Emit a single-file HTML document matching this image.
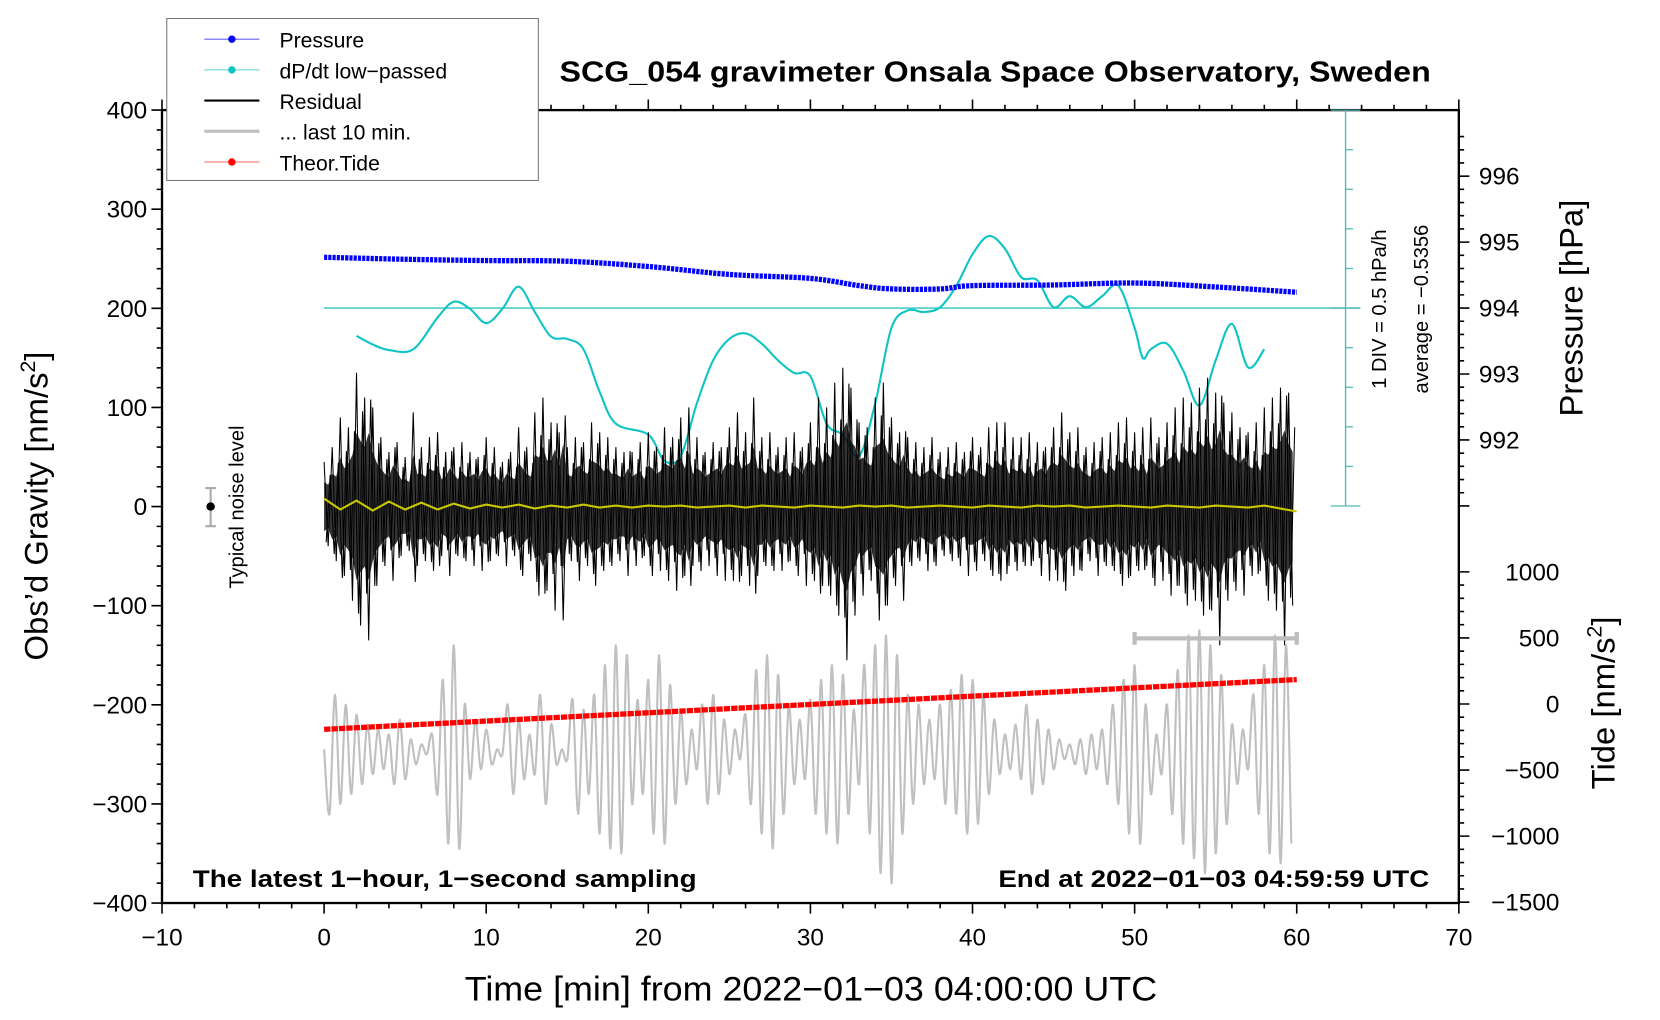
<!DOCTYPE html>
<html><head><meta charset="utf-8"><style>
html,body{margin:0;padding:0;background:#fff;}
svg{display:block;font-family:"Liberation Sans",Arial,sans-serif;}
</style></head><body>
<svg id="chart" xmlns="http://www.w3.org/2000/svg" width="1660" height="1020" viewBox="0 0 1568 963.5">
<g id="g-axes"></g>
<g id="g-series"></g>
<g id="g-text"></g>
</svg>
<script>
// ---- data ----
const residual = [45,-40,60,-55,90,-70,80,-95,135,-120,110,-135,100,-80,70,-60,55,-75,65,-50,50,-45,95,-60,60,-55,70,-65,75,-50,55,-70,60,-50,65,-55,55,-60,50,-65,70,-55,60,-50,45,-60,55,-50,80,-70,60,-55,95,-90,110,-85,85,-105,75,-115,60,-55,70,-75,65,-60,85,-80,75,-65,70,-60,60,-55,55,-70,55,-60,65,-50,75,-70,60,-65,80,-75,70,-85,90,-70,100,-60,70,-65,55,-60,65,-70,60,-75,80,-75,95,-70,75,-80,110,-70,70,-60,75,-65,60,-65,70,-55,75,-70,60,-80,85,-75,110,-80,100,-90,125,-110,140,-155,120,-110,85,-90,80,-75,110,-115,125,-100,90,-80,75,-95,70,-60,65,-55,60,-65,70,-60,55,-50,60,-55,65,-60,55,-70,70,-65,60,-55,80,-70,85,-75,85,-60,70,-65,70,-60,75,-55,65,-70,60,-75,80,-75,95,-85,75,-70,80,-65,60,-55,65,-70,70,-60,75,-65,85,-80,90,-70,75,-65,80,-60,90,-80,70,-75,85,-90,100,-80,110,-100,105,-95,120,-110,130,-105,115,-140,105,-95,95,-85,80,-90,75,-70,85,-65,100,-95,110,-105,120,-140,115,-100];
const lastTen = [-245,-310,-190,-300,-200,-290,-210,-280,-220,-270,-225,-265,-230,-280,-215,-275,-235,-260,-240,-250,-230,-290,-175,-340,-140,-345,-200,-275,-215,-265,-225,-260,-245,-250,-200,-290,-215,-275,-230,-270,-190,-300,-220,-260,-245,-255,-195,-310,-205,-290,-190,-330,-160,-345,-140,-350,-150,-300,-195,-290,-175,-330,-150,-340,-180,-300,-205,-280,-225,-265,-200,-300,-190,-290,-215,-270,-225,-255,-210,-300,-165,-330,-150,-345,-170,-310,-200,-280,-215,-275,-195,-310,-175,-330,-160,-340,-170,-310,-205,-280,-160,-330,-140,-370,-130,-380,-150,-330,-190,-300,-200,-280,-215,-275,-200,-300,-185,-310,-170,-330,-175,-320,-190,-290,-215,-270,-230,-265,-220,-275,-200,-290,-215,-280,-225,-265,-235,-255,-240,-260,-235,-270,-230,-265,-225,-280,-200,-300,-175,-330,-160,-340,-200,-290,-230,-270,-200,-310,-165,-340,-130,-355,-125,-370,-140,-350,-170,-320,-220,-280,-225,-265,-190,-310,-160,-350,-130,-360,-140,-340];
const smoothRes = [8,-3,6,-4,5,-3,4,-3,3,-2,2,-1,2,-2,1,-1,2,-1,1,-1,1,0,1,-1,0,1,-1,1,0,-1,1,0,-1,1,0,1,-1,0,1,0,-1,1,0,-1,1,0,1,-1,0,1,0,-1,1,0,-1,1,0,-1,1,-2,-5];
const pressTimes = [0,5,10,15,20,25,30,33,35,38,40,45,50,55,60];
const pressVals = [994.77,994.74,994.72,994.71,994.63,994.51,994.45,994.34,994.29,994.29,994.34,994.35,994.38,994.32,994.24];
const dpTimes = [2,3,4,5.5,7,8,9,10,11,12,13,14,15,16,17,18,20,21,22,23,24,25,26,27,28,29,30,31,32,33,34,35,36,37,38,39,40,41,42,43,44,45,46,47,48,49,50,50.5,51,52,53,54,55,56,57,58];
const dpVals = [-0.35,-0.46,-0.53,-0.52,-0.12,0.08,-0.01,-0.19,-0.01,0.27,-0.05,-0.36,-0.39,-0.52,-1.06,-1.46,-1.60,-1.93,-1.87,-1.20,-0.66,-0.39,-0.32,-0.45,-0.66,-0.82,-0.86,-1.46,-1.60,-1.87,-1.20,-0.25,-0.03,-0.05,0.01,0.28,0.68,0.91,0.75,0.39,0.35,0.01,0.15,0.01,0.15,0.28,-0.25,-0.63,-0.52,-0.45,-0.79,-1.23,-0.66,-0.20,-0.75,-0.52];
const tideTimes = [0,60];
const tideVals = [-192,185];
const xTicks = [-10,0,10,20,30,40,50,60,70];
const yTicks = [400,300,200,100,0,-100,-200,-300,-400];
const pTicks = [996,995,994,993,992];
const tTicks = [1000,500,0,-500,-1000,-1500];

// ---- scales (view units) ----
const L=153,R=1378,T=104,B=853;
const X=t=>L+(t+10)*(R-L)/80;
const Y=v=>478.5-v*(B-T)/800;
const YP=p=>291-(p-994)*62.3;
const YT=v=>665-v*0.1248;
const YD=d=>291-(d/0.5)*37.4;
const NS="http://www.w3.org/2000/svg";
function mk(tag,attrs,parent,txt){const e=document.createElementNS(NS,tag);for(const k in attrs)e.setAttribute(k,attrs[k]);if(txt!==undefined)e.textContent=txt;parent.appendChild(e);return e;}
const gA=document.getElementById('g-axes'),gS=document.getElementById('g-series'),gT=document.getElementById('g-text');

let el=mk('line',{x1:306,y1:291,x2:1285,y2:291,stroke:'#2bc4c4','stroke-width':1.3},gS);


el=mk('line',{x1:1271,y1:104,x2:1271,y2:478,stroke:'#52b8b8','stroke-width':1.3},gS);


for(let i=0;i<=10;i++){const y=104+i*37.4;const w=(i===0||i===10||i===5)?14:7;
 el=mk('line',{x1:1271-(w===14?14:0),y1:y,x2:1271+w,y2:y,stroke:'#52b8b8','stroke-width':1.2},gS);
 
 }

function smoothPath(pts){let d='M'+pts[0][0]+','+pts[0][1];for(let i=0;i<pts.length-1;i++){const p0=pts[i-1]||pts[i],p1=pts[i],p2=pts[i+1],p3=pts[i+2]||p2;
 d+=' C'+(p1[0]+(p2[0]-p0[0])/6)+','+(p1[1]+(p2[1]-p0[1])/6)+' '+(p2[0]-(p3[0]-p1[0])/6)+','+(p2[1]-(p3[1]-p1[1])/6)+' '+p2[0]+','+p2[1];}return d;}
el=mk('path',{d:smoothPath(dpTimes.map((t,i)=>[X(t),YD(dpVals[i])])),fill:'none',stroke:'#10c4c4','stroke-width':2},gS);



el=mk('path',{d:smoothPath(pressTimes.map((t,i)=>[X(t),YP(pressVals[i])])),fill:'none',stroke:'#0000ff','stroke-width':5,'stroke-dasharray':'3 1'},gS);



// residual dense core band (from residual envelope)
const envTop=residual.map((v,i)=>X(i/4)+','+Y(Math.abs(v)*0.55));
const envBot=residual.map((v,i)=>X(i/4)+','+Y(-Math.abs(v)*0.55)).reverse();
el=mk('polygon',{points:envTop.concat(envBot).join(' '),fill:'#111','fill-opacity':0.85,stroke:'none'},gS);


el=mk('polyline',{points:residual.map((v,i)=>X(i/4)+','+Y(v)).join(' '),fill:'none',stroke:'#000','stroke-width':1,'stroke-linejoin':'miter'},gS);


el=mk('polyline',{points:residual.map((v,i)=>X(i/4+0.125)+','+Y(-v*0.8)).join(' '),fill:'none',stroke:'#000','stroke-width':1},gS);



el=mk('polyline',{points:smoothRes.map((v,i)=>X(i)+','+Y(v)).join(' '),fill:'none',stroke:'#c8c800','stroke-width':2},gS);



el=mk('path',{d:smoothPath(lastTen.map((v,i)=>[X(i/3),Y(v)])),fill:'none',stroke:'#c0c0c0','stroke-width':2},gS);



el=mk('polyline',{points:tideTimes.map((t,i)=>X(t)+','+YT(tideVals[i])).join(' '),fill:'none',stroke:'#ff0000','stroke-width':5,'stroke-dasharray':'6 1'},gS);



el=mk('path',{d:`M${X(50)},603 H${X(60)} M${X(50)},597 V609 M${X(60)},597 V609`,stroke:'#bdbdbd','stroke-width':4,fill:'none'},gS);


el=mk('path',{d:`M${X(-7)},461 V497 M${X(-7)-5},461 H${X(-7)+5} M${X(-7)-5},497 H${X(-7)+5}`,stroke:'#aaa','stroke-width':2,fill:'none'},gS);


el=mk('circle',{cx:X(-7),cy:478.5,r:4,fill:'#000'},gS);



el=mk('rect',{x:L,y:T,width:R-L,height:B-T,fill:'none',stroke:'#000','stroke-width':2.2},gA);


let tk='';
for(let t=-10;t<=70;t+=2){const m=t%10===0;const x=X(t);tk+=`M${x},${B} V${B+(m?10:5)} M${x},${T} V${T-(m?10:5)} `;}
for(let v=-400;v<=400;v+=20){const m=v%100===0;const y=Y(v);tk+=`M${L},${y} H${L-(m?10:5)} `;}
for(let p=991;p<=996.8;p+=0.2){const y=YP(p);if(y<T||y>478)continue;const m=Math.abs(p-Math.round(p))<0.01;tk+=`M${R},${y} H${R+(m?10:5)} `;}
for(let v=-1500;v<=1000;v+=100){const y=YT(v);const m=v%500===0;tk+=`M${R},${y} H${R+(m?10:5)} `;}
el=mk('path',{d:tk,stroke:'#000','stroke-width':1.5,fill:'none'},gA);


xTicks.forEach(t=>{el=mk('text',{x:X(t),y:893,'font-size':23,'text-anchor':'middle'},gT,String(t).replace('-','\u2212'));
 
 });
yTicks.forEach(v=>{el=mk('text',{x:L-14,y:Y(v)+8,'font-size':23,'text-anchor':'end'},gT,String(v).replace('-','\u2212'));
 
 });
pTicks.forEach(p=>{el=mk('text',{x:1397,y:YP(p)+8,'font-size':23},gT,String(p));
 
 });
tTicks.forEach(v=>{el=mk('text',{x:1473,y:YT(v)+8,'font-size':23,'text-anchor':'end'},gT,String(v).replace('-','\u2212'));
 
 });
</script>
<svg style="position:absolute;left:0;top:0" width="1660" height="1020" viewBox="0 0 1568 963.5">
<g font-family="Liberation Sans, Arial, sans-serif">
<text x="940" y="77" font-size="27" font-weight="bold" text-anchor="middle" textLength="823" lengthAdjust="spacingAndGlyphs">SCG_054 gravimeter Onsala Space Observatory, Sweden</text>
<text x="182" y="838" font-size="23" font-weight="bold" textLength="476" lengthAdjust="spacingAndGlyphs">The latest 1−hour, 1−second sampling</text>
<text x="943" y="838" font-size="23" font-weight="bold" textLength="407" lengthAdjust="spacingAndGlyphs">End at 2022−01−03 04:59:59 UTC</text>
<text x="439" y="945" font-size="32" textLength="654" lengthAdjust="spacingAndGlyphs">Time [min] from 2022−01−03 04:00:00 UTC</text>
<text transform="translate(45,478) rotate(-90)" font-size="31" text-anchor="middle">Obs’d Gravity [nm/s<tspan font-size="20" dy="-12">2</tspan><tspan dy="12">]</tspan></text>
<text transform="translate(1495,291) rotate(-90)" font-size="31" text-anchor="middle">Pressure [hPa]</text>
<text transform="translate(1525,664) rotate(-90)" font-size="31" text-anchor="middle">Tide [nm/s<tspan font-size="20" dy="-12">2</tspan><tspan dy="12">]</tspan></text>
<text transform="translate(230,479) rotate(-90)" font-size="19" text-anchor="middle">Typical noise level</text>
<text transform="translate(1309,292) rotate(-90)" font-size="19" text-anchor="middle">1 DIV = 0.5 hPa/h</text>
<text transform="translate(1349,292) rotate(-90)" font-size="19" text-anchor="middle">average = −0.5356</text>
<g>
<rect x="157.5" y="17.5" width="351" height="153" fill="#fff" stroke="#777" stroke-width="1"/>
<g><line x1="193" y1="37" x2="245" y2="37" stroke="#6060ff" stroke-width="1"/><circle cx="219" cy="37" r="3.5" fill="#00f"/><text x="264" y="45" font-size="20">Pressure</text></g>
<g><line x1="193" y1="66" x2="245" y2="66" stroke="#50d0d0" stroke-width="1"/><circle cx="219" cy="66" r="3.5" fill="#10c4c4"/><text x="264" y="74" font-size="20">dP/dt low−passed</text></g>
<g><line x1="193" y1="95" x2="245" y2="95" stroke="#000" stroke-width="2"/><text x="264" y="103" font-size="20">Residual</text></g>
<g><line x1="193" y1="124" x2="245" y2="124" stroke="#c0c0c0" stroke-width="3"/><text x="264" y="132" font-size="20">... last 10 min.</text></g>
<g><line x1="193" y1="153" x2="245" y2="153" stroke="#ff6060" stroke-width="1"/><circle cx="219" cy="153" r="3.5" fill="#f00"/><text x="264" y="161" font-size="20">Theor.Tide</text></g>
</g>
</g>
</svg>
</body></html>
